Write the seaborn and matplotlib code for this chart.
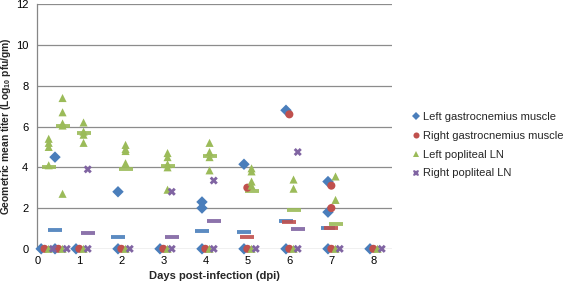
import numpy as np
import pandas as pd
import matplotlib
matplotlib.use("Agg")
import matplotlib.pyplot as plt
import seaborn as sns

# ---------------- data ----------------
days = [0.17, 0.5, 1, 2, 3, 4, 5, 6, 7, 8]
series = ["Left gastrocnemius muscle", "Right gastrocnemius muscle",
          "Left popliteal LN", "Right popliteal LN"]

# individual titers per day (zeros = below detection)
left_gastro = [[0], [4.5, 0], [0], [2.8, 0], [0], [2.3, 2.0, 0],
               [4.15, 0], [6.8, 0], [3.3, 1.8, 0], [0]]
right_gastro = [[0], [0], [0], [0], [0], [0],
                [3.0, 0], [6.6, 0], [3.1, 2.0, 0], [0]]
left_lpln = [[5.4, 5.2, 5.0, 4.1, 0], [7.4, 6.7, 6.15, 6.05, 2.7, 0],
             [6.2, 5.75, 5.6, 5.2, 0], [5.1, 4.9, 4.8, 4.2, 0],
             [4.7, 4.5, 4.15, 4.0, 2.9, 0], [5.2, 4.75, 4.5, 3.85, 0],
             [3.95, 3.8, 3.3, 3.1, 0], [3.4, 2.95, 0], [3.55, 2.4, 0], [0]]
right_lpln = [[0], [0], [3.9, 0], [0], [2.8, 0], [3.35, 0],
              [0], [4.75, 0], [0], [0]]

# group means (horizontal dashes), None = at zero / not shown
mean_left_gastro = [None, 0.9, None, 0.56, None, 0.86, 0.83, 1.36, 1.02, None]
mean_right_gastro = [None, None, None, None, None, None, 0.6, 1.32, 1.02, None]
mean_left_lpln = [4.0, 6.05, 5.7, 3.9, 4.05, 4.55, 2.85, 1.9, 1.2, None]
mean_right_lpln = [None, None, 0.78, None, 0.56, 1.35, None, 0.95, None, None]

# ---------------- styling ----------------
colors = ["#4A7EBB", "#C0504D", "#9BBB59", "#8064A2"]
markers = ["D", "o", "^", "X"]
offsets = [-0.08, 0.0, 0.1, 0.2]

sns.set_theme(style="white")
plt.rcParams["font.family"] = ["Liberation Sans", "DejaVu Sans"]
plt.rcParams["mathtext.fontset"] = "custom"
plt.rcParams["mathtext.bf"] = "Liberation Sans:bold"
plt.rcParams["mathtext.rm"] = "Liberation Sans"

rows = []
all_vals = [left_gastro, right_gastro, left_lpln, right_lpln]
for s, vals, off in zip(series, all_vals, offsets):
    for d, lst in zip(days, vals):
        for v in lst:
            rows.append({"series": s, "x": d + off, "titer": v})
df = pd.DataFrame(rows)

mrows = []
all_means = [mean_left_gastro, mean_right_gastro, mean_left_lpln, mean_right_lpln]
for s, ms, off in zip(series, all_means, offsets):
    for d, m in zip(days, ms):
        if m is not None:
            mrows.append({"series": s, "x": d + off, "titer": m})
mdf = pd.DataFrame(mrows)

fig = plt.figure(figsize=(5.66, 2.86), dpi=100)
ax = fig.add_axes([0.066, 0.13, 0.627, 0.855])

for s, c in zip(series, colors):
    sub = mdf[mdf["series"] == s]
    ax.plot(sub["x"], sub["titer"], ls="none", marker="_", ms=10, mew=2.8,
            color=c, alpha=0.9, zorder=2, clip_on=False)

sns.scatterplot(data=df, x="x", y="titer", hue="series", style="series",
                hue_order=series, style_order=series,
                palette=dict(zip(series, colors)),
                markers=dict(zip(series, markers)),
                s=34, linewidth=0, ax=ax, zorder=3, clip_on=False)

ax.set_xlim(0, 8.45)
ax.set_ylim(0, 12)
ax.set_xticks(range(0, 9))
ax.set_yticks(range(0, 13, 2))
ax.tick_params(axis="both", labelsize=8, colors="black")
ax.tick_params(axis="y", length=3, width=0.8, color="#868686", direction="out")
ax.tick_params(axis="x", length=0, pad=5)
ax.yaxis.grid(True, color="#8C8C8C", lw=0.9)
ax.set_axisbelow(True)
for sp in ["top", "right", "bottom"]:
    ax.spines[sp].set_visible(False)
ax.spines["left"].set_color("#868686")
ax.spines["left"].set_linewidth(0.9)

ax.set_xlabel("Days post-infection (dpi)", fontsize=8, fontweight="bold", labelpad=4)
ax.set_ylabel(r"Geometric mean titer (Log$_{\mathbf{10}}$ pfu/gm)",
              fontsize=7.4, fontweight="bold", labelpad=3)
ax.yaxis.set_label_coords(-0.07, 0.50)

leg = ax.legend(loc="center left", bbox_to_anchor=(1.05, 0.424), frameon=False,
                fontsize=8, handlelength=1.0, handletextpad=0.2,
                labelspacing=0.8, markerscale=0.75, borderaxespad=0,
                borderpad=0)

fig.savefig("out.png", dpi=100)
